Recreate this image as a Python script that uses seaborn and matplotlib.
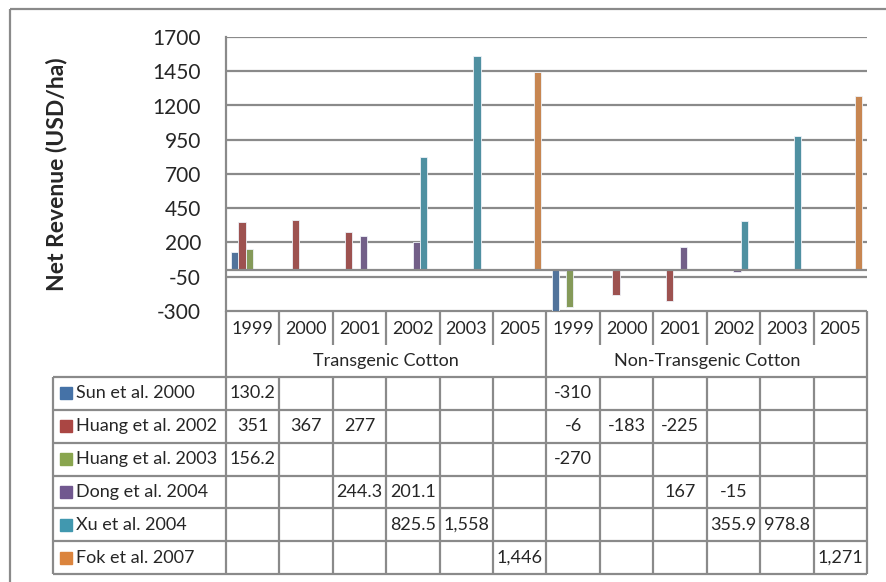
import numpy as np
import pandas as pd
import matplotlib
matplotlib.use("Agg")
import matplotlib.pyplot as plt
import seaborn as sns
from matplotlib.patches import Rectangle

# ── Data ────────────────────────────────────────────────────────
years = ["1999", "2000", "2001", "2002", "2003", "2005"]
groups = ["Transgenic Cotton", "Non-Transgenic Cotton"]
series = ["Sun et al. 2000", "Huang et al. 2002", "Huang et al. 2003",
          "Dong et al. 2004", "Xu et al. 2004", "Fok et al. 2007"]
colors = ["#4572A7", "#AA4643", "#89A54E", "#71588F", "#4198AF", "#DB843D"]

nan = np.nan
# 12 columns: transgenic 1999..2005, then non-transgenic 1999..2005
sun_2000 = [130.2, nan, nan, nan, nan, nan, -310, nan, nan, nan, nan, nan]
huang_2002 = [351, 367, 277, nan, nan, nan, -6, -183, -225, nan, nan, nan]
huang_2003 = [156.2, nan, nan, nan, nan, nan, -270, nan, nan, nan, nan, nan]
dong_2004 = [nan, nan, 244.3, 201.1, nan, nan, nan, nan, 167, -15, nan, nan]
xu_2004 = [nan, nan, nan, 825.5, 1558, nan, nan, nan, nan, 355.9, 978.8, nan]
fok_2007 = [nan, nan, nan, nan, nan, 1446, nan, nan, nan, nan, nan, 1271]
values = [sun_2000, huang_2002, huang_2003, dong_2004, xu_2004, fok_2007]

yticks = list(range(-300, 1701, 250))

cats = [f"{g[0]}{y}" for g in groups for y in years]
rows = []
for name, vals in zip(series, values):
    for c, v in zip(cats, vals):
        if not np.isnan(v):
            rows.append({"cat": c, "series": name, "value": v})
df = pd.DataFrame(rows)


def fmt(v):
    if np.isnan(v):
        return ""
    if float(v).is_integer():
        return f"{v:,.0f}"
    return f"{v:.1f}"


# ── Figure ──────────────────────────────────────────────────────
sns.set_theme(style="white")
plt.rcParams["font.family"] = ["Lato", "DejaVu Sans"]

W, H = 886, 582
fig = plt.figure(figsize=(W / 100, H / 100), dpi=100)
GRID = "#8a8a8a"
LW = 1.6
FS = 13

# plot area in pixels
x0, x1, y0, y1 = 226, 867, 37, 311
ax = fig.add_axes([x0 / W, 1 - y1 / H, (x1 - x0) / W, (y1 - y0) / H], zorder=2)

sns.barplot(data=df, x="cat", y="value", hue="series", order=cats,
            hue_order=series, palette=colors, width=0.8, dodge=True,
            edgecolor="#eef2f8", linewidth=0.6, legend=False, ax=ax)

ax.set_xlim(-0.5, len(cats) - 0.5)
ax.set_ylim(-300, 1700)
ax.set_yticks(yticks)
ax.set_yticklabels([str(t) for t in yticks], fontsize=15)
ax.tick_params(axis="y", length=0, pad=18)
ax.set_xticks([])
ax.set_xlabel("")
ax.set_ylabel("Net Revenue (USD/ha)", fontsize=16.5, fontweight="bold")
ax.yaxis.set_label_coords(-0.248, 0.5)
ax.grid(axis="y", color=GRID, linewidth=LW)
ax.set_axisbelow(True)
ax.axhline(0, color=GRID, linewidth=LW, zorder=1.5)
for s in ["top", "right", "bottom"]:
    ax.spines[s].set_visible(False)
ax.spines["left"].set_color(GRID)
ax.spines["left"].set_linewidth(LW)

# ── Data table (pixel coordinates) ──────────────────────────────
tab = fig.add_axes([0, 0, 1, 1], zorder=1)
tab.set_xlim(0, W)
tab.set_ylim(H, 0)
tab.axis("off")

tab.add_patch(Rectangle((10, 9), 1000, 1000, fill=False,
                        edgecolor=GRID, linewidth=LW))

n = len(cats)
cw = (x1 - x0) / n
xs = [x0 + i * cw for i in range(n + 1)]
yr_bot, grp_bot = 345, 377
row_h = (574 - grp_bot) / len(series)
ys = [grp_bot + i * row_h for i in range(len(series) + 1)]
lab_x = 53

tab.hlines(y1, x0, x1, color=GRID, linewidth=LW)
for i, x in enumerate(xs):
    if i in (0, 6, 12):
        tab.vlines(x, y1, ys[-1], color=GRID, linewidth=LW)
    else:
        tab.vlines(x, y1, yr_bot, color=GRID, linewidth=LW)
        tab.vlines(x, grp_bot, ys[-1], color=GRID, linewidth=LW)
for y in ys:
    tab.hlines(y, lab_x, x1, color=GRID, linewidth=LW)
tab.vlines(lab_x, ys[0], ys[-1], color=GRID, linewidth=LW)

for i, c in enumerate(cats):
    tab.text((xs[i] + xs[i + 1]) / 2, (y1 + yr_bot) / 2 + 1, years[i % 6],
             ha="center", va="center", fontsize=FS)
for g, name in enumerate(groups):
    tab.text((xs[g * 6] + xs[g * 6 + 6]) / 2, (yr_bot + grp_bot) / 2, name,
             ha="center", va="center", fontsize=FS)

for r, (name, vals, col) in enumerate(zip(series, values, colors)):
    yc = (ys[r] + ys[r + 1]) / 2
    tab.add_patch(Rectangle((60, yc - 6), 12, 12, color=col))
    tab.text(76, yc, name, ha="left", va="center", fontsize=FS)
    for i, v in enumerate(vals):
        tab.text((xs[i] + xs[i + 1]) / 2, yc, fmt(v),
                 ha="center", va="center", fontsize=FS)

fig.savefig("out.png", dpi=100)
